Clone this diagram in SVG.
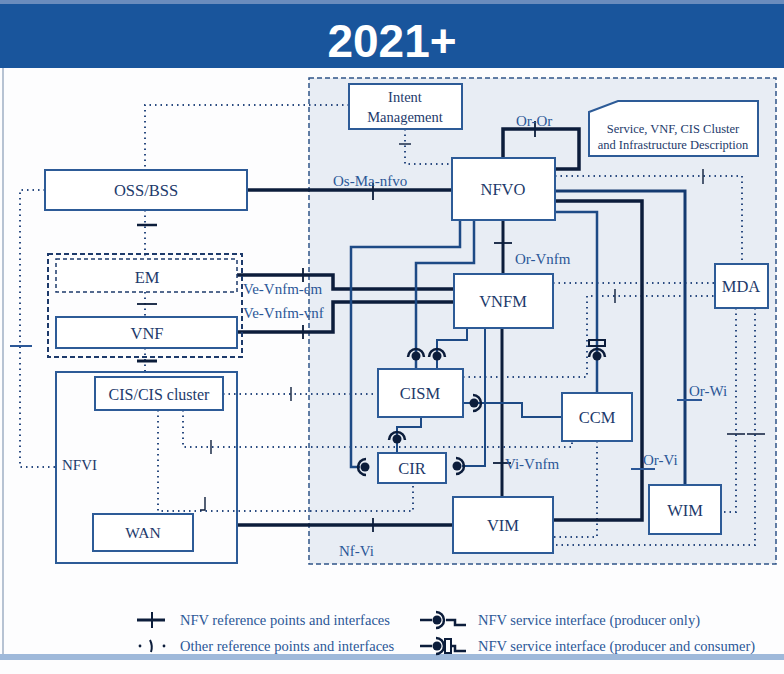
<svg xmlns="http://www.w3.org/2000/svg" width="784" height="674" viewBox="0 0 784 674">
<style>
.box{fill:#fff;stroke:#2d5b97;stroke-width:2}
.t{font-family:"Liberation Serif","Times New Roman",serif;font-size:16.5px;fill:#1d3a6b;text-anchor:middle}
.l{font-family:"Liberation Serif","Times New Roman",serif;font-size:15px;fill:#2b5797}
.lg{font-family:"Liberation Serif","Times New Roman",serif;font-size:14.5px;fill:#2b5797}
.k{fill:none;stroke:#0c1d3b;stroke-width:3.5}
.b{fill:none;stroke:#1d4a85;stroke-width:2.5}
.d{fill:none;stroke:#2a4b80;stroke-width:2;stroke-dasharray:1.5 4}
.tk{fill:none;stroke:#0c1d3b;stroke-width:1.8}
.tb{fill:none;stroke:#2b5797;stroke-width:2}
</style>
<defs>
<g id="prod">
<path d="M-8,1 A8,8 0 0 1 8,1" fill="none" stroke="#0c1d3b" stroke-width="2.5"/>
<circle cx="0" cy="0" r="4.5" fill="#0c1d3b"/>
</g>
</defs>
<rect x="0" y="0" width="784" height="674" fill="#fdfdfe"/>
<rect x="0" y="0" width="784" height="4" fill="#6a8cbd"/>
<rect x="0" y="4" width="784" height="64" fill="#19559c"/>
<text x="392" y="57" font-family="'Liberation Sans',Arial,sans-serif" font-size="46" font-weight="bold" fill="#fff" text-anchor="middle">2021+</text>
<line x1="3" y1="68" x2="3" y2="654" stroke="#b7c3d3" stroke-width="2"/>
<rect x="0" y="654" width="784" height="6" fill="#9fb9da"/>
<rect id="mano" x="309" y="78" width="467" height="486" fill="#e8edf4" stroke="#2f5488" stroke-width="1.5" stroke-dasharray="5 3"/>

<g id="connectors">
<path class="d" d="M349,105 H145 V170"/>
<path class="d" d="M145,210 V259"/>
<path class="d" d="M145,292 V317"/>
<path class="d" d="M145,348 V372"/>
<path class="d" d="M45,190 H20 V467 H56"/>
<path class="d" d="M405,129 V164 H452"/>
<path class="d" d="M555,176 H742 V264"/>
<path class="d" d="M553,283 H715"/>
<path class="d" d="M463,377 H587 V296 H715"/>
<path class="d" d="M223,394 H378"/>
<path class="d" d="M183,410 V447 H572 V441"/>
<path class="d" d="M158,410 V511 H413 V483"/>
<path class="d" d="M597,441 V537 H553"/>
<path class="d" d="M736,308 V512 H721"/>
<path class="d" d="M755,308 V545 H553"/>
<path class="k" d="M247,190 H452"/>
<path class="k" d="M503,158 V129 H579 V169 H555"/>
<path class="k" d="M237,275 H333 V289 H454"/>
<path class="k" d="M237,332 H333 V302 H454"/>
<path class="k" d="M503,220 V274" style="stroke-width:3"/>
<path class="k" d="M555,191 H685 V485" style="stroke:#143a70;stroke-width:3"/>
<path class="k" d="M555,201 H642 V520 H553"/>
<path class="b" d="M555,212 H597 V393"/>
<path class="b" d="M460,220 V247 H351 V467 H360"/>
<path class="b" d="M474,220 V263 H416 V369"/>
<path class="b" d="M467,328 V340 H437 V369" style="stroke-width:2"/>
<path class="b" d="M485,328 V466 H462" style="stroke-width:2"/>
<path class="k" d="M502,328 V497" style="stroke-width:3"/>
<path class="b" d="M463,403 H522 V417 H562" style="stroke-width:2"/>
<path class="b" d="M421,417 V427 H397 V453" style="stroke-width:2"/>
<path class="k" d="M237,525 H453"/>
<path class="tk" d="M373,183 V200"/>
<path class="tk" d="M535,121 V137"/>
<path class="tk" d="M494,243 H512"/>
<path class="tk" d="M303,268 V282 M303,325 V339"/>
<path class="tk" d="M493,463 H511"/>
<path class="tb" d="M631,469 H655"/>
<path class="tb" d="M677,400 H702"/>
<path class="tk" d="M373,518 V532"/>
<path class="tk" d="M137,225 H157" style="stroke-width:2.5"/>
<path class="tk" d="M137,304 H157"/>
<path class="tk" d="M137,361 H157" style="stroke-width:3"/>
<path class="tb" d="M10,346 H32"/>
<path class="tk" d="M399,144 H411" style="stroke-width:1.4"/>
<path class="tk" d="M703,169 V184" style="stroke-width:1.4"/>
<path class="tk" d="M615,289 V303" style="stroke-width:1.4"/>
<path class="tk" d="M291,387 V401" style="stroke-width:1.4"/>
<path class="tk" d="M211,440 V454" style="stroke-width:1.4"/>
<path class="tk" d="M205,497 V510 H200" style="stroke-width:1.4"/>
<path class="tk" d="M727,434 H745 M747,434 H765" style="stroke-width:1.4"/>
<use href="#prod" transform="translate(416,356)"/>
<use href="#prod" transform="translate(437,356)"/>
<use href="#prod" transform="translate(397,439)"/>
<use href="#prod" transform="translate(365,467) rotate(-90)"/>
<use href="#prod" transform="translate(457,466) rotate(90)"/>
<use href="#prod" transform="translate(474,403) rotate(90)"/>
<use href="#prod" transform="translate(597,356)"/>
<rect x="589" y="340" width="16" height="6" fill="none" stroke="#0c1d3b" stroke-width="2"/>
</g>

<g id="intent"><rect class="box" x="349" y="84" width="113" height="45"/><text class="t" x="405" y="102" style="font-size:14.5px">Intent</text><text class="t" x="405" y="122" style="font-size:14.5px">Management</text></g>
<g id="desc"><polygon class="box" points="618,101 758,101 758,156 589,156 589,112"/><text class="t" x="673" y="133" style="font-size:12.5px">Service, VNF, CIS Cluster</text><text class="t" x="673" y="149" style="font-size:12.5px">and Infrastructure Description</text></g>
<g id="ossbss"><rect class="box" x="45" y="170" width="202" height="40"/><text class="t" x="146" y="196">OSS/BSS</text></g>
<g id="emvnf"><rect x="48" y="254" width="194" height="103" fill="none" stroke="#1d3a6b" stroke-width="2" stroke-dasharray="5 3"/></g>
<g id="em"><rect x="56" y="259" width="181" height="33" fill="#fff" stroke="#1d3a6b" stroke-width="1.5" stroke-dasharray="4 3"/><text class="t" x="147" y="283">EM</text></g>
<g id="vnf"><rect class="box" x="56" y="317" width="181" height="31"/><text class="t" x="147" y="339">VNF</text></g>
<g id="nfvi"><rect class="box" x="56" y="372" width="181" height="191" style="fill:none"/><text class="t" x="62" y="470" style="font-size:15px;text-anchor:start">NFVI</text></g>
<g id="cis"><rect class="box" x="95" y="377" width="128" height="33"/><text class="t" x="159" y="400" style="font-size:16px">CIS/CIS cluster</text></g>
<g id="wan"><rect class="box" x="93" y="514" width="100" height="37"/><text class="t" x="143" y="538" style="font-size:15.5px">WAN</text></g>
<g id="nfvo"><rect class="box" x="452" y="158" width="103" height="62"/><text class="t" x="503" y="195">NFVO</text></g>
<g id="vnfm"><rect class="box" x="454" y="274" width="99" height="54"/><text class="t" x="503" y="307">VNFM</text></g>
<g id="cism"><rect class="box" x="378" y="369" width="85" height="48"/><text class="t" x="420" y="399">CISM</text></g>
<g id="cir"><rect class="box" x="378" y="453" width="68" height="30"/><text class="t" x="412" y="474">CIR</text></g>
<g id="ccm"><rect class="box" x="562" y="393" width="70" height="48"/><text class="t" x="597" y="423">CCM</text></g>
<g id="vim"><rect class="box" x="453" y="497" width="100" height="56"/><text class="t" x="503" y="531">VIM</text></g>
<g id="wim"><rect class="box" x="649" y="485" width="72" height="49"/><text class="t" x="685" y="516">WIM</text></g>
<g id="mda"><rect class="box" x="715" y="264" width="53" height="44"/><text class="t" x="741" y="292">MDA</text></g>

<g id="labels">
<text class="l" x="333" y="186">Os-Ma-nfvo</text>
<text class="l" x="516" y="126">Or-Or</text>
<text class="l" x="515" y="264">Or-Vnfm</text>
<text class="l" x="243" y="294">Ve-Vnfm-em</text>
<text class="l" x="243" y="318">Ve-Vnfm-vnf</text>
<text class="l" x="505" y="469">Vi-Vnfm</text>
<text class="l" x="643" y="465">Or-Vi</text>
<text class="l" x="689" y="396">Or-Wi</text>
<text class="l" x="339" y="556">Nf-Vi</text>
</g>

<g id="legend">
<path d="M137,620 H165" stroke="#0c1d3b" stroke-width="3"/>
<path d="M152,612 V628" stroke="#0c1d3b" stroke-width="2"/>
<text class="lg" x="180" y="625">NFV reference points and interfaces</text>
<circle cx="140" cy="646" r="1.4" fill="#0c1d3b"/>
<circle cx="164" cy="646" r="1.4" fill="#0c1d3b"/>
<path d="M150,640 Q153,646 151,652" fill="none" stroke="#0c1d3b" stroke-width="2"/>
<text class="lg" x="180" y="651">Other reference points and interfaces</text>
<path d="M420,620 H432 M446,620 H455 V625 H466" fill="none" stroke="#0c1d3b" stroke-width="2.5"/>
<use href="#prod" transform="translate(437,620) rotate(90)"/>
<text class="lg" x="478" y="625">NFV service interface (producer only)</text>
<path d="M420,646 H432 M452,646 H455 V651 H466" fill="none" stroke="#0c1d3b" stroke-width="2.5"/>
<use href="#prod" transform="translate(437,646) rotate(90)"/>
<rect x="445" y="639" width="6" height="14" fill="none" stroke="#0c1d3b" stroke-width="2"/>
<text class="lg" x="478" y="651">NFV service interface (producer and consumer)</text>
</g>
</svg>
